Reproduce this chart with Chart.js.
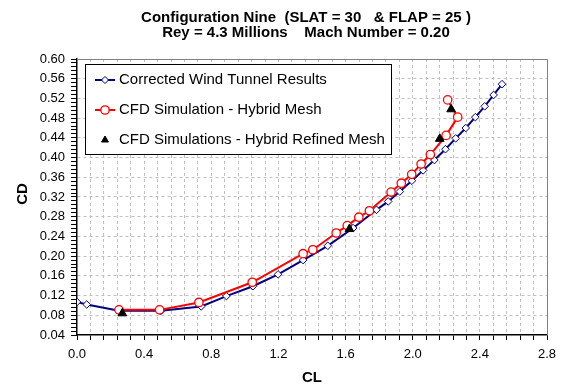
<!DOCTYPE html>
<html>
<head>
<meta charset="utf-8">
<script src="https://cdn.jsdelivr.net/npm/chart.js@4/dist/chart.umd.min.js"></script>
<style>
  html, body { margin: 0; padding: 0; background: #ffffff; }
  #wrap { width: 565px; height: 388px; position: relative; }
</style>
</head>
<body>
<div id="wrap"><canvas id="c" width="565" height="388"></canvas></div>
<script>
// ---- Data ----
const titleLines = ["Configuration Nine  (SLAT = 30   & FLAP = 25 )", "Rey = 4.3 Millions    Mach Number = 0.20"];
const xAxisTitle = "CL";
const yAxisTitle = "CD";
const seriesNames = ["Corrected Wind Tunnel Results", "CFD Simulation - Hybrid Mesh", "CFD Simulations - Hybrid Refined Mesh"];

const windTunnelCL = [0.0, 0.058, 0.25, 0.50, 0.74, 0.89, 1.048, 1.198, 1.347, 1.494, 1.645, 1.784, 1.854, 1.923, 1.995, 2.062, 2.129, 2.195, 2.256, 2.316, 2.373, 2.429, 2.482, 2.532];
const windTunnelCD = [0.107, 0.102, 0.089, 0.089, 0.098, 0.119, 0.139, 0.163, 0.192, 0.221, 0.257, 0.294, 0.311, 0.331, 0.353, 0.374, 0.395, 0.417, 0.439, 0.460, 0.482, 0.504, 0.527, 0.549];

const hybridCL = [0.25, 0.492, 0.726, 1.044, 1.347, 1.405, 1.544, 1.61, 1.679, 1.742, 1.871, 1.932, 1.994, 2.05, 2.105, 2.199, 2.268, 2.208];
const hybridCD = [0.091, 0.091, 0.106, 0.147, 0.205, 0.213, 0.247, 0.262, 0.279, 0.292, 0.330, 0.348, 0.366, 0.387, 0.406, 0.445, 0.482, 0.517];

const refinedCL = [0.27, 1.623, 2.161, 2.229];
const refinedCD = [0.084, 0.255, 0.438, 0.498];

const xTickLabels = ["0.0", "0.4", "0.8", "1.2", "1.6", "2.0", "2.4", "2.8"];
const yTickLabels = ["0.04", "0.08", "0.12", "0.16", "0.20", "0.24", "0.28", "0.32", "0.36", "0.40", "0.44", "0.48", "0.52", "0.56", "0.60"];

const toPts = (xs, ys) => xs.map((x, i) => ({ x: x, y: ys[i] }));

const FONT = "'Liberation Sans', Arial, Helvetica, sans-serif";
const isMult = (v, step) => Math.abs(v / step - Math.round(v / step)) < 1e-6;

const decorPlugin = {
  id: 'decor',
  beforeDatasetsDraw(chart) {
    const { ctx, chartArea: a } = chart;
    ctx.save();
    ctx.strokeStyle = '#808080';
    ctx.lineWidth = 1;
    ctx.beginPath();
    ctx.moveTo(a.left, a.top + 0.5);
    ctx.lineTo(a.right + 0.5, a.top + 0.5);
    ctx.lineTo(a.right + 0.5, a.bottom);
    ctx.stroke();
    ctx.restore();
  },
  afterDraw(chart) {
    const { ctx, chartArea: a } = chart;
    ctx.save();
    // Title
    ctx.fillStyle = '#000';
    ctx.textAlign = 'center';
    ctx.textBaseline = 'middle';
    ctx.font = 'bold 15px ' + FONT;
    const cx = 306;
    ctx.fillText(titleLines[0], cx, 18);
    ctx.fillText(titleLines[1], cx, 33);
    // Axis titles
    ctx.font = 'bold 15px ' + FONT;
    ctx.fillText(xAxisTitle, (a.left + a.right) / 2, 378);
    ctx.save();
    ctx.translate(23, 194);
    ctx.rotate(-Math.PI / 2);
    ctx.fillText(yAxisTitle, 0, 0);
    ctx.restore();

    // Legend
    const bx = 85.5, by = 64.5, bw = 306, bh = 90;
    ctx.fillStyle = '#fff';
    ctx.fillRect(bx, by, bw, bh);
    ctx.strokeStyle = '#000';
    ctx.lineWidth = 1;
    ctx.strokeRect(bx, by, bw, bh);
    const rows = [80, 110, 140];
    chart.data.datasets.forEach((ds, i) => {
      const y = rows[i];
      if (ds.showLine) {
        ctx.strokeStyle = ds.borderColor;
        ctx.lineWidth = 2;
        ctx.setLineDash([]);
        ctx.beginPath();
        ctx.moveTo(95, y);
        ctx.lineTo(115, y);
        ctx.stroke();
      }
      ctx.fillStyle = ds.pointBackgroundColor;
      ctx.strokeStyle = ds.pointBorderColor;
      ctx.lineWidth = ds.pointBorderWidth;
      Chart.helpers.drawPoint(ctx, {
        pointStyle: ds.pointStyle,
        radius: ds.legendRadius,
        borderWidth: ds.pointBorderWidth,
        rotation: 0
      }, 105, y);
      ctx.fillStyle = '#000';
      ctx.textAlign = 'left';
      ctx.textBaseline = 'middle';
      ctx.font = '15px ' + FONT;
      ctx.fillText(ds.label, 119, y);
    });
    ctx.restore();
  }
};

new Chart(document.getElementById('c'), {
  type: 'scatter',
  data: {
    datasets: [
      {
        label: seriesNames[0],
        data: toPts(windTunnelCL, windTunnelCD),
        showLine: true,
        borderColor: '#000080',
        borderWidth: 2,
        pointStyle: 'rectRot',
        pointRadius: 3.8,
        legendRadius: 3.5,
        pointBackgroundColor: '#ffffff',
        pointBorderColor: '#000080',
        pointBorderWidth: 1,
        order: 3
      },
      {
        label: seriesNames[1],
        data: toPts(hybridCL, hybridCD),
        showLine: true,
        borderColor: '#ff0000',
        borderWidth: 2,
        pointStyle: 'circle',
        pointRadius: 4.2,
        legendRadius: 4.2,
        pointBackgroundColor: '#ffffff',
        pointBorderColor: '#ff0000',
        pointBorderWidth: 1.3,
        order: 2
      },
      {
        label: seriesNames[2],
        data: toPts(refinedCL, refinedCD),
        showLine: false,
        borderColor: '#000000',
        pointStyle: 'triangle',
        pointRadius: 5,
        legendRadius: 4,
        pointBackgroundColor: '#000000',
        pointBorderColor: '#000000',
        pointBorderWidth: 1,
        order: 1
      }
    ]
  },
  options: {
    responsive: false,
    animation: false,
    devicePixelRatio: 1,
    layout: { padding: { top: 59, right: 18, left: 0, bottom: 0 } },
    plugins: { legend: { display: false }, tooltip: { enabled: false }, title: { display: false } },
    elements: { line: { tension: 0 } },
    scales: {
      x: {
        type: 'linear',
        min: 0, max: 2.8,
        afterFit(s) { s.height = 53; },
        afterBuildTicks(s) {
          const t = [];
          for (let i = 0; i <= 35; i++) t.push({ value: +(i * 0.08).toFixed(4) });
          s.ticks = t;
        },
        ticks: {
          autoSkip: false, maxRotation: 0, padding: 7,
          color: '#000', font: { family: FONT, size: 13 },
          callback(v) {
            if (!isMult(v, 0.4)) return '';
            return xTickLabels[Math.round(v / 0.4)];
          }
        },
        grid: {
          color: (c) => (c.tick && c.tick.value > 0 && c.tick.value < 2.8) ? '#c0c0c0' : 'rgba(0,0,0,0)',
          lineWidth: 1,
          drawTicks: true, tickLength: 5, tickColor: '#000', tickWidth: 1
        },
        border: { display: true, color: '#000', width: 1.5, dash: [3, 3] }
      },
      y: {
        type: 'linear',
        min: 0.04, max: 0.60,
        afterFit(s) { s.width = 77; },
        afterBuildTicks(s) {
          const t = [];
          for (let i = 0; i <= 70; i++) t.push({ value: +(0.04 + i * 0.008).toFixed(4) });
          s.ticks = t;
        },
        ticks: {
          autoSkip: false, padding: 6,
          color: '#000', font: { family: FONT, size: 13 },
          callback(v) {
            if (!isMult(v, 0.04)) return '';
            return yTickLabels[Math.round((v - 0.04) / 0.04)];
          }
        },
        grid: {
          color: (c) => (c.tick && isMult(c.tick.value, 0.04) && c.tick.value > 0.041 && c.tick.value < 0.599) ? '#c0c0c0' : 'rgba(0,0,0,0)',
          lineWidth: 1,
          drawTicks: true, tickLength: 6, tickColor: '#000', tickWidth: 1
        },
        border: { display: true, color: '#000', width: 1.5, dash: [3, 3] }
      }
    }
  },
  plugins: [decorPlugin]
});
</script>
</body>
</html>
